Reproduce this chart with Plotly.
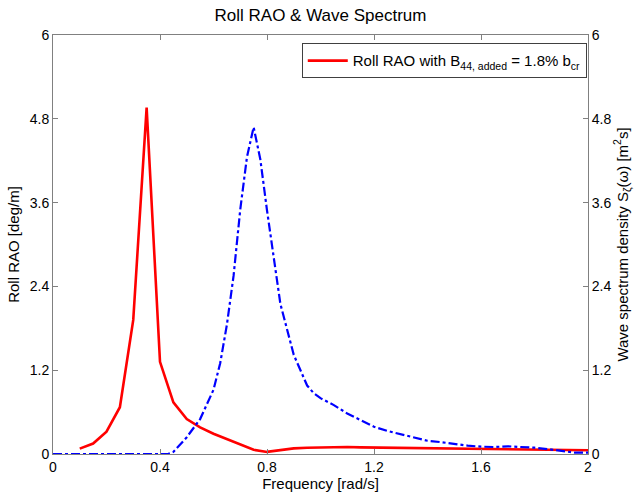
import plotly.graph_objects as go

# Roll RAO (left axis)
rao_freq = [0.10, 0.15, 0.20, 0.25, 0.30, 0.35, 0.40, 0.45, 0.50, 0.55, 0.60, 0.65,
            0.70, 0.75, 0.80, 0.85, 0.90, 0.95, 1.00, 1.05, 1.10, 1.15, 1.20, 1.25,
            1.30, 1.35, 1.40, 1.45, 1.50, 1.55, 1.60, 1.65, 1.70, 1.75, 1.80, 1.85,
            1.90, 1.95, 2.00]
rao_vals = [0.077, 0.15, 0.32, 0.67, 1.92, 4.96, 1.32, 0.74, 0.50, 0.38, 0.29, 0.21,
            0.14, 0.06, 0.03, 0.06, 0.08, 0.09, 0.095, 0.10, 0.10, 0.095, 0.093, 0.09,
            0.088, 0.085, 0.083, 0.08, 0.078, 0.076, 0.074, 0.072, 0.07, 0.067, 0.064, 0.061,
            0.058, 0.055, 0.053]

# Wave spectrum (right axis)
spec_freq = [0.00, 0.10, 0.20, 0.30, 0.40, 0.43, 0.45, 0.50, 0.55, 0.60, 0.625, 0.65,
             0.675, 0.70, 0.725, 0.75, 0.775, 0.80, 0.85, 0.90, 0.95, 0.975, 1.00, 1.05,
             1.10, 1.15, 1.20, 1.25, 1.30, 1.35, 1.40, 1.45, 1.50, 1.55, 1.60, 1.65,
             1.70, 1.75, 1.80, 1.85, 1.90, 1.95, 2.00]
spec_vals = [0.0, 0.0, 0.0, 0.0, 0.0, 0.0, 0.03, 0.24, 0.50, 0.92, 1.30, 1.85,
             2.55, 3.50, 4.25, 4.68, 4.22, 3.49, 2.15, 1.42, 0.98, 0.87, 0.80, 0.70,
             0.58, 0.48, 0.39, 0.33, 0.28, 0.23, 0.19, 0.17, 0.14, 0.12, 0.105, 0.10,
             0.11, 0.105, 0.09, 0.07, 0.04, 0.02, 0.02]

x_ticks = [0, 0.4, 0.8, 1.2, 1.6, 2]
x_tick_text = ["0", "0.4", "0.8", "1.2", "1.6", "2"]
y_ticks = [0, 1.2, 2.4, 3.6, 4.8, 6]
y_tick_text = ["0", "1.2", "2.4", "3.6", "4.8", "6"]

FONT = "Liberation Sans, Arial, sans-serif"
AXC = "#808080"

fig = go.Figure()
fig.add_trace(go.Scatter(
    x=spec_freq, y=spec_vals, mode="lines", yaxis="y2", showlegend=False,
    line=dict(color="#0000ff", width=2.2, dash="dashdot"), cliponaxis=False))
fig.add_trace(go.Scatter(
    x=rao_freq, y=rao_vals, mode="lines",
    name="Roll RAO with B<sub>44, added</sub> = 1.8% b<sub>cr</sub>",
    line=dict(color="#ff0000", width=2.6), cliponaxis=False))

axis_common = dict(
    showgrid=False, zeroline=False, showline=True, linecolor=AXC, linewidth=1,
    ticks="inside", ticklen=5, tickcolor=AXC,
    tickfont=dict(family=FONT, size=14, color="black"),
)

fig.update_layout(
    width=641, height=497,
    margin=dict(l=53, r=53, t=35, b=43),
    paper_bgcolor="white", plot_bgcolor="white",
    font=dict(family=FONT, color="black"),
    title=dict(text="Roll RAO & Wave Spectrum", x=0.5, xanchor="center",
               y=1 - 15 / 497, yanchor="middle", yref="container",
               font=dict(family=FONT, size=17, color="black")),
    xaxis=dict(range=[0, 2], tickvals=x_ticks, ticktext=x_tick_text, mirror="ticks",
               title=dict(text="Frequency [rad/s]", font=dict(family=FONT, size=15),
                          standoff=0),
               **axis_common),
    yaxis=dict(range=[0, 6], tickvals=y_ticks, ticktext=y_tick_text,
               title=dict(text="Roll RAO [deg/m]", font=dict(family=FONT, size=15),
                          standoff=6),
               **axis_common),
    yaxis2=dict(range=[0, 6], tickvals=y_ticks, ticktext=y_tick_text, overlaying="y",
                side="right",
                title=dict(text="Wave spectrum density S<sub>ζ</sub>(ω) [m<sup>2</sup>s]",
                           font=dict(family=FONT, size=15), standoff=6),
                **axis_common),
    legend=dict(x=0.465, y=0.98, xanchor="left", yanchor="top",
                bgcolor="white", bordercolor="#404040", borderwidth=1,
                font=dict(family=FONT, size=15, color="black"),
                itemwidth=40),
)

fig.write_html("out.html")
